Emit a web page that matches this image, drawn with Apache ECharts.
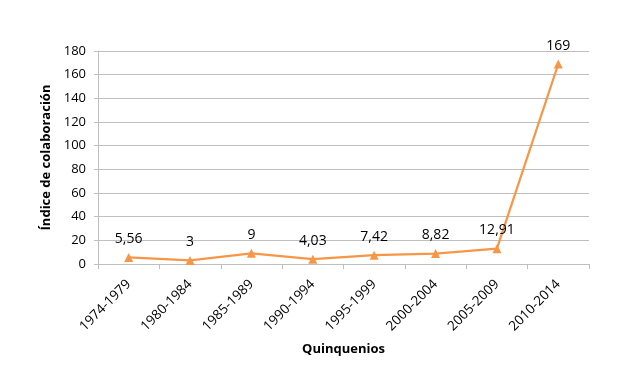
<!DOCTYPE html>
<html><head><meta charset="utf-8">
<script src="https://cdn.jsdelivr.net/npm/echarts@6/dist/echarts.min.js"></script>
<style>html,body{margin:0;padding:0;background:#fff}#c{width:644px;height:388px}</style>
</head><body><div id="c"></div>
<script>
var categories = ['1974-1979','1980-1984','1985-1989','1990-1994','1995-1999','2000-2004','2005-2009','2010-2014'];
var values = [5.56, 3, 9, 4.03, 7.42, 8.82, 12.91, 169];
var yTicks = [0, 20, 40, 60, 80, 100, 120, 140, 160, 180];
var font = '"Open Sans", "Liberation Sans", sans-serif';
var chart = echarts.init(document.getElementById('c'));
chart.setOption({
  animation: false,
  grid: {left: 98, right: 55, top: 51, bottom: 124, containLabel: false},
  xAxis: {
    type: 'category', data: categories, boundaryGap: true,
    name: 'Quinquenios', nameLocation: 'middle', nameGap: 79,
    nameTextStyle: {fontFamily: font, fontWeight: 'bold', fontSize: 13, color: '#000'},
    axisLine: {show: true, lineStyle: {color: '#bfbfbf', width: 1}},
    axisTick: {show: true, length: 5, alignWithLabel: false, lineStyle: {color: '#bfbfbf'}},
    axisLabel: {rotate: 45, fontFamily: font, fontSize: 13.5, color: '#000', margin: 18, interval: 0}
  },
  yAxis: {
    type: 'value', min: 0, max: 180, interval: 20,
    name: 'Índice de colaboración', nameLocation: 'middle', nameGap: 40,
    nameTextStyle: {fontFamily: font, fontWeight: 'bold', fontSize: 13, color: '#000'},
    axisLine: {show: true, lineStyle: {color: '#bfbfbf'}},
    axisTick: {show: true, length: 4, lineStyle: {color: '#bfbfbf'}},
    splitLine: {lineStyle: {color: '#bfbfbf', width: 1}},
    axisLabel: {fontFamily: font, fontSize: 13, color: '#000', margin: 12,
      formatter: function(v){ return yTicks.indexOf(v) >= 0 ? String(v) : ''; }}
  },
  series: [{
    type: 'line', data: values,
    symbol: 'triangle', symbolSize: 9,
    lineStyle: {color: '#F79646', width: 2.25},
    itemStyle: {color: '#F79646'},
    label: {show: true, position: 'top', distance: 7, fontFamily: font, fontSize: 14, color: '#000',
      formatter: function(p){ return String(p.value).replace('.', ','); }}
  }]
});
</script></body></html>
